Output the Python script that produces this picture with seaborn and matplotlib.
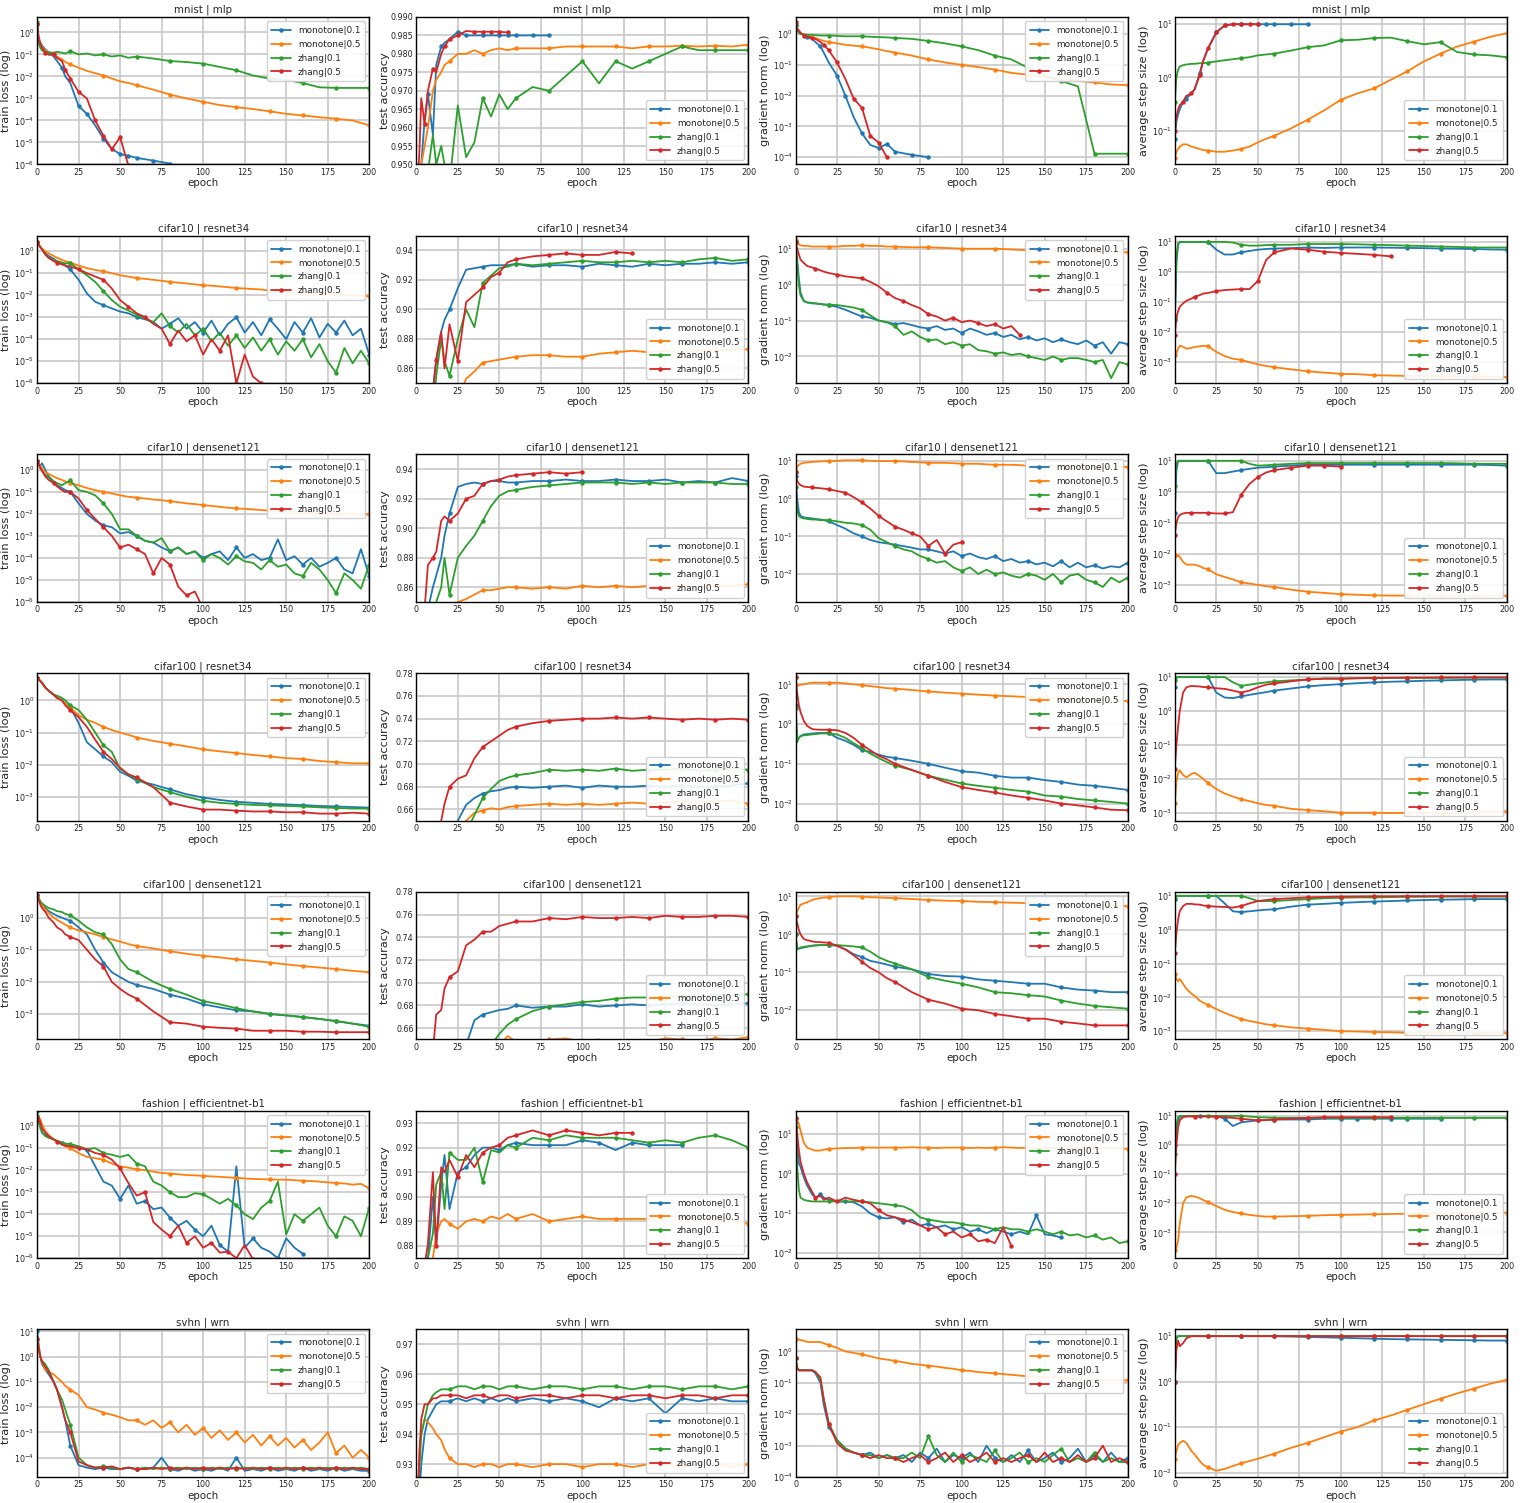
import matplotlib
matplotlib.use("Agg")
import matplotlib.pyplot as plt
import seaborn as sns
from matplotlib.ticker import MultipleLocator, LogLocator, NullLocator

# Epochs at which a logged curve is sampled (a run may stop early).
EPOCHS = [0, 1, 2, 3, 5, 7, 10, 12, 15, 17, 20,
          25, 30, 35, 40, 45, 50, 55, 60,
          70, 80, 90, 100, 110, 120, 130, 140, 150, 160, 170, 180, 190, 200]
# Finer sampling used for the noisier panels (every 5 epochs after epoch 60).
EPOCHS_DENSE = EPOCHS[:19] + list(range(65, 201, 5))

RUNS = ["monotone|0.1", "monotone|0.5", "zhang|0.1", "zhang|0.5"]
COLORS = ["#1f77b4", "#ff7f0e", "#2ca02c", "#d62728"]
TASKS = ["mnist | mlp", "cifar10 | resnet34", "cifar10 | densenet121",
         "cifar100 | resnet34", "cifar100 | densenet121",
         "fashion | efficientnet-b1", "svhn | wrn"]
METRICS = ["train loss (log)", "test accuracy", "gradient norm (log)",
           "average step size (log)"]

# ---------------- mnist | mlp ----------------
MNIST_LOSS = (
    [2.5, 0.6, 0.35, 0.25, 0.17, 0.12, 0.08, 0.05, 0.025, 0.01, 0.005,
     4.5e-4, 2e-4, 6e-5, 1.5e-5, 5e-6, 3e-6, 2.5e-6, 2e-6, 1.5e-6, 1.1e-6],
    [2.5, 0.5, 0.3, 0.22, 0.15, 0.12, 0.1, 0.08, 0.06, 0.045, 0.035,
     0.025, 0.018, 0.014, 0.011, 0.008, 0.006, 0.005, 0.004,
     0.0025, 0.0015, 0.001, 7e-4, 5e-4, 4e-4, 3.3e-4, 2.6e-4, 2e-4, 1.7e-4, 1.4e-4, 1.2e-4, 1e-4, 6e-5],
    [3, 0.3, 0.2, 0.15, 0.13, 0.12, 0.12, 0.13, 0.12, 0.11, 0.14,
     0.1, 0.11, 0.09, 0.1, 0.08, 0.09, 0.07, 0.08,
     0.065, 0.05, 0.045, 0.038, 0.027, 0.019, 0.011, 0.008, 0.007, 0.005, 0.0032, 0.003, 0.003, 0.003],
    [2.5, 0.5, 0.3, 0.2, 0.12, 0.1, 0.1, 0.07, 0.05, 0.02, 0.008,
     0.002, 0.001, 1e-4, 2e-5, 5e-6, 1.7e-5, 9e-7],
)
MNIST_ACC = (
    [0.93, 0.94, 0.945, 0.95, 0.962, 0.969, 0.958, 0.977, 0.982, 0.983, 0.984,
     0.986, 0.985, 0.985, 0.985, 0.985, 0.985, 0.985, 0.985, 0.985, 0.985],
    [0.93, 0.94, 0.945, 0.95, 0.955, 0.96, 0.97, 0.973, 0.975, 0.977, 0.978,
     0.98, 0.98, 0.981, 0.98, 0.981, 0.9815, 0.981, 0.9815,
     0.9815, 0.9815, 0.982, 0.982, 0.982, 0.982, 0.9815, 0.982, 0.982, 0.9822, 0.982, 0.9822, 0.982, 0.9825],
    [0.93, 0.935, 0.94, 0.942, 0.945, 0.948, 0.958, 0.95, 0.955, 0.95, 0.945,
     0.966, 0.952, 0.956, 0.968, 0.963, 0.969, 0.965, 0.968,
     0.971, 0.970, 0.974, 0.978, 0.972, 0.978, 0.976, 0.978, 0.980, 0.982, 0.981, 0.981, 0.981, 0.981],
    [0.94, 0.945, 0.955, 0.968, 0.961, 0.97, 0.976, 0.975, 0.98, 0.982, 0.984,
     0.985, 0.9862, 0.986, 0.986, 0.986, 0.986, 0.9858],
)
MNIST_GRAD = (
    [2, 1.5, 1.3, 1.1, 0.9, 0.8, 0.7, 0.55, 0.4, 0.25, 0.12,
     0.045, 0.01, 0.002, 6e-4, 2.5e-4, 2e-4, 2.7e-4, 1.5e-4, 1.2e-4, 1e-4],
    [2, 1.5, 1.3, 1.1, 0.95, 0.9, 0.8, 0.75, 0.65, 0.6, 0.55,
     0.5, 0.45, 0.42, 0.4, 0.36, 0.32, 0.28, 0.25,
     0.2, 0.15, 0.12, 0.1, 0.085, 0.07, 0.055, 0.048, 0.04, 0.035, 0.03, 0.027, 0.023, 0.022],
    [2, 1.3, 1.1, 1.0, 1.0, 0.95, 0.95, 0.92, 0.9, 0.9, 0.9,
     0.88, 0.85, 0.85, 0.85, 0.82, 0.8, 0.78, 0.75,
     0.7, 0.6, 0.5, 0.4, 0.3, 0.2, 0.15, 0.08, 0.045, 0.03, 0.02, 1.3e-4, 1.3e-4, 1.3e-4],
    [2.5, 1.5, 1.3, 1.1, 0.9, 0.85, 0.75, 0.7, 0.55, 0.45, 0.3,
     0.12, 0.035, 0.008, 0.004, 5e-4, 3e-4, 1e-4],
)
MNIST_STEP = (
    [0.07, 0.15, 0.2, 0.25, 0.35, 0.4, 0.5, 0.6, 1.2, 2, 3.5,
     7, 9.5, 10, 10, 10, 10, 10, 10, 10, 10],
    [0.03, 0.04, 0.045, 0.05, 0.055, 0.055, 0.05, 0.048, 0.045, 0.043, 0.042,
     0.04, 0.04, 0.042, 0.045, 0.05, 0.06, 0.07, 0.08,
     0.11, 0.16, 0.24, 0.38, 0.5, 0.62, 0.9, 1.3, 2.0, 2.8, 3.8, 4.7, 5.8, 6.8],
    [0.35, 1.0, 1.4, 1.6, 1.7, 1.75, 1.8, 1.8, 1.85, 1.85, 1.9,
     2.0, 2.1, 2.2, 2.3, 2.4, 2.6, 2.7, 2.8,
     3.2, 3.7, 4.0, 5.0, 5.1, 5.5, 5.6, 4.8, 4.2, 4.6, 3.0, 2.7, 2.6, 2.4],
    [0.1, 0.18, 0.25, 0.3, 0.35, 0.45, 0.5, 0.6, 1.1, 2, 3.5,
     7, 9.5, 10, 10, 10, 10],
)

# ---------------- cifar10 | resnet34 ----------------
C10R_LOSS = (  # sampled on EPOCHS_DENSE
    [2.5, 2.0, 1.5, 1.2, 0.8, 0.6, 0.45, 0.35, 0.3, 0.22, 0.15,
     0.05, 0.012, 0.005, 0.0035, 0.0025, 0.0018, 0.0015, 0.001,
     8e-4, 6e-4, 3e-4, 5e-4, 9e-4, 3e-4, 6e-4,
     2e-4, 7e-4, 1.5e-4, 5e-4, 1e-3, 2e-4, 6e-4,
     1.5e-4, 8e-4, 3e-4, 1e-4, 6e-4, 2e-4, 9e-4,
     1.2e-4, 5e-4, 2e-4, 7e-4, 1.5e-4, 3e-4, 2e-5],
    [2.5, 2.0, 1.5, 1.3, 1.0, 0.8, 0.6, 0.5, 0.4, 0.35, 0.3,
     0.22, 0.17, 0.14, 0.12, 0.1, 0.08, 0.07, 0.06,
     0.055, 0.05, 0.045, 0.04, 0.037, 0.034, 0.031,
     0.028, 0.027, 0.025, 0.023, 0.021, 0.02, 0.019,
     0.018, 0.016, 0.015, 0.014, 0.0135, 0.013, 0.0125,
     0.012, 0.0115, 0.011, 0.0105, 0.01, 0.0095, 0.009],
    [2.5, 2.0, 1.5, 1.2, 0.7, 0.5, 0.4, 0.35, 0.3, 0.28, 0.28,
     0.15, 0.08, 0.04, 0.015, 0.006, 0.003, 0.002, 0.0013,
     9e-4, 6e-4, 1.5e-3, 4e-4, 2e-4, 5e-4, 1.5e-4,
     3e-4, 8e-5, 2e-4, 5e-5, 1.5e-4, 4e-5, 1.2e-4,
     3e-5, 1e-4, 2e-5, 8e-5, 3e-5, 1e-4, 1.5e-5,
     6e-5, 1e-5, 3e-6, 4e-5, 8e-6, 3e-5, 8e-6],
    [2.5, 2.0, 1.5, 1.2, 0.7, 0.5, 0.35, 0.3, 0.25, 0.22, 0.2,
     0.15, 0.1, 0.07, 0.05, 0.02, 0.006, 0.003, 0.0015,
     1e-3, 5e-4, 3e-4, 6e-5, 2.5e-4, 8e-5, 1.5e-4,
     2e-5, 1e-4, 3e-5, 1.5e-4, 1e-6, 2e-5, 2e-6,
     1e-6],
)
C10R_ACC = (
    [0.80, 0.81, 0.815, 0.82, 0.825, 0.835, 0.845, 0.866, 0.885, 0.893, 0.90,
     0.9145, 0.927, 0.928, 0.929, 0.930, 0.930, 0.930, 0.931,
     0.929, 0.930, 0.930, 0.929, 0.931, 0.930, 0.929, 0.931, 0.930, 0.931, 0.931, 0.932, 0.931, 0.932],
    [0.78, 0.785, 0.79, 0.795, 0.80, 0.805, 0.81, 0.815, 0.82, 0.825, 0.83,
     0.84, 0.853, 0.858, 0.864, 0.865, 0.866, 0.867, 0.868,
     0.869, 0.869, 0.868, 0.868, 0.870, 0.871, 0.872, 0.871, 0.872, 0.871, 0.872, 0.872, 0.873, 0.873],
    [0.80, 0.805, 0.81, 0.815, 0.82, 0.825, 0.83, 0.855, 0.88, 0.865, 0.855,
     0.88, 0.9, 0.888, 0.918, 0.923, 0.928, 0.929, 0.931,
     0.930, 0.931, 0.932, 0.933, 0.932, 0.932, 0.933, 0.932, 0.933, 0.932, 0.934, 0.935, 0.933, 0.934],
    [0.80, 0.805, 0.81, 0.815, 0.82, 0.83, 0.845, 0.866, 0.885, 0.86, 0.89,
     0.865, 0.905, 0.91, 0.915, 0.922, 0.925, 0.932, 0.934,
     0.936, 0.937, 0.938, 0.937, 0.937, 0.939, 0.938],
)
C10R_GRAD = (  # sampled on EPOCHS_DENSE
    [15, 5, 1.5, 0.6, 0.35, 0.32, 0.31, 0.3, 0.29, 0.28, 0.27,
     0.24, 0.2, 0.16, 0.13, 0.12, 0.1, 0.09, 0.08,
     0.085, 0.075, 0.065, 0.06, 0.07, 0.055, 0.06,
     0.045, 0.06, 0.05, 0.04, 0.045, 0.035, 0.04,
     0.03, 0.035, 0.028, 0.032, 0.025, 0.03, 0.025,
     0.022, 0.028, 0.02, 0.025, 0.012, 0.025, 0.022],
    [18, 15, 13, 12.5, 12, 12, 11.5, 11.5, 11.5, 11.5, 11.5,
     11.5, 12, 12, 12.5, 12, 12, 11.5, 11.5,
     11.2, 11, 11, 11, 10.8, 10.5, 10.3,
     10, 10, 10, 10, 10, 9.8, 9.5,
     9.3, 9, 9, 9, 8.8, 8.5, 8.5,
     8.5, 8.5, 8.5, 8.3, 8.2, 8, 8],
    [15, 4, 1, 0.5, 0.35, 0.32, 0.3, 0.3, 0.29, 0.28, 0.28,
     0.27, 0.25, 0.23, 0.2, 0.14, 0.1, 0.09, 0.07,
     0.04, 0.05, 0.035, 0.028, 0.03, 0.022, 0.025,
     0.02, 0.022, 0.015, 0.014, 0.012, 0.013, 0.011,
     0.012, 0.01, 0.009, 0.008, 0.01, 0.008, 0.009,
     0.009, 0.008, 0.007, 0.008, 0.0025, 0.007, 0.006],
    [15, 10, 7, 5, 4, 3.3, 3, 2.8, 2.5, 2.3, 2.1,
     1.9, 1.7, 1.6, 1.5, 1.2, 0.9, 0.6, 0.42,
     0.35, 0.27, 0.22, 0.15, 0.13, 0.1, 0.12,
     0.09, 0.1, 0.085, 0.07, 0.08, 0.06, 0.07,
     0.04],
)
C10R_STEP = (
    [0.025, 2, 8, 10, 10, 10, 10, 10, 10, 10, 10,
     5.5, 3.8, 3.8, 4.5, 5, 5.5, 5.8, 6,
     6.2, 6.5, 6.3, 6.5, 6.5, 6.5, 6.4, 6.3, 6.2, 6, 5.9, 5.8, 5.6, 5.5],
    [0.0017, 0.002, 0.0028, 0.0035, 0.0033, 0.0028, 0.003, 0.0032, 0.0034, 0.0035, 0.0034,
     0.0022, 0.0016, 0.0013, 0.0012, 0.001, 0.00085, 0.00075, 0.00068,
     0.00058, 0.0005, 0.00045, 0.00041, 0.0004, 0.00037, 0.00036, 0.00035, 0.00035, 0.00034, 0.00034,
     0.00033, 0.00033, 0.00032],
    [0.03, 3, 9, 10, 10, 10, 10, 10, 10, 10, 10,
     10, 10, 9.5, 8, 7.5, 7.5, 7.8, 8,
     8, 8.5, 8.5, 8.5, 8.3, 8, 7.8, 7.5, 7.3, 7, 6.8, 6.5, 6.5, 6.5],
    [0.008, 0.03, 0.05, 0.07, 0.09, 0.11, 0.13, 0.15, 0.17, 0.19, 0.2,
     0.23, 0.25, 0.26, 0.27, 0.27, 0.5, 2.5, 4.5,
     6, 5.5, 4.7, 4.3, 4, 3.7, 3.3],
)

# ---------------- cifar10 | densenet121 ----------------
C10D_LOSS = (  # sampled on EPOCHS_DENSE
    [2.5, 2, 1.5, 2.0, 1.0, 0.5, 0.3, 0.2, 0.15, 0.12, 0.1,
     0.03, 0.01, 0.005, 0.003, 0.0025, 0.0013, 0.0015, 0.001,
     6e-4, 5e-4, 3e-4, 2e-4, 3e-4, 1.5e-4, 2e-4,
     1e-4, 1.5e-4, 2e-4, 8e-5, 3e-4, 1e-4, 1.5e-4,
     8e-5, 1e-4, 7e-4, 8e-5, 1.2e-4, 5e-5, 1e-4,
     4e-5, 6e-5, 1e-4, 3e-5, 2e-5, 2.5e-4, 1.5e-5],
    [2.5, 2, 1.5, 1.2, 0.8, 0.65, 0.5, 0.42, 0.35, 0.3, 0.25,
     0.2, 0.15, 0.12, 0.1, 0.085, 0.07, 0.06, 0.055,
     0.05, 0.045, 0.042, 0.038, 0.034, 0.03, 0.028,
     0.025, 0.023, 0.021, 0.019, 0.018, 0.017, 0.016,
     0.015, 0.014, 0.013, 0.013, 0.012, 0.012, 0.011,
     0.011, 0.0105, 0.01, 0.01, 0.0095, 0.0095, 0.0095],
    [2.5, 1.8, 1.2, 0.9, 0.6, 0.45, 0.3, 0.25, 0.2, 0.25, 0.33,
     0.12, 0.1, 0.07, 0.03, 0.01, 0.002, 0.002, 0.001,
     6e-4, 5e-4, 8e-4, 2e-4, 3e-4, 1.5e-4, 2e-4,
     8e-5, 1.5e-4, 1e-4, 5e-5, 1.2e-4, 7e-5, 6e-5,
     3e-5, 8e-5, 4e-5, 5e-5, 2e-5, 1.5e-5, 6e-5,
     3e-5, 1e-5, 2.5e-6, 2e-5, 1e-5, 4e-6, 5e-5],
    [2.5, 1.8, 1.2, 0.9, 0.5, 0.35, 0.25, 0.18, 0.12, 0.1, 0.1,
     0.05, 0.015, 0.006, 0.0025, 0.001, 3e-4, 4e-4, 2.5e-4,
     1.5e-4, 2e-5, 1e-4, 5e-5, 5e-6, 2e-6, 3e-6,
     5e-7],
)
C10D_ACC = (
    [0.80, 0.81, 0.82, 0.83, 0.84, 0.845, 0.86, 0.868, 0.88, 0.895, 0.91,
     0.928, 0.930, 0.931, 0.930, 0.932, 0.932, 0.931, 0.931,
     0.932, 0.932, 0.933, 0.932, 0.932, 0.933, 0.932, 0.932, 0.933, 0.931, 0.932, 0.931, 0.934, 0.932],
    [0.78, 0.785, 0.79, 0.795, 0.80, 0.805, 0.81, 0.815, 0.82, 0.83, 0.84,
     0.85, 0.852, 0.855, 0.858, 0.858, 0.859, 0.86, 0.86,
     0.859, 0.86, 0.859, 0.861, 0.86, 0.861, 0.86, 0.861, 0.86, 0.861, 0.86, 0.861, 0.861, 0.862],
    [0.80, 0.805, 0.81, 0.815, 0.82, 0.83, 0.84, 0.85, 0.86, 0.88, 0.855,
     0.88, 0.888, 0.895, 0.905, 0.915, 0.922, 0.925, 0.926,
     0.928, 0.929, 0.930, 0.931, 0.931, 0.931, 0.930, 0.931, 0.930, 0.931, 0.931, 0.931, 0.930, 0.930],
    [0.80, 0.81, 0.82, 0.83, 0.845, 0.875, 0.88, 0.884, 0.905, 0.908, 0.905,
     0.91, 0.92, 0.922, 0.93, 0.932, 0.933, 0.935, 0.936,
     0.937, 0.938, 0.937, 0.938],
)
C10D_GRAD = (  # sampled on EPOCHS_DENSE
    [4, 1, 0.45, 0.35, 0.32, 0.31, 0.3, 0.29, 0.28, 0.27, 0.25,
     0.2, 0.16, 0.12, 0.1, 0.08, 0.07, 0.065, 0.06,
     0.055, 0.05, 0.045, 0.045, 0.04, 0.035, 0.04,
     0.03, 0.035, 0.028, 0.025, 0.03, 0.022, 0.025,
     0.02, 0.022, 0.018, 0.02, 0.016, 0.022, 0.015,
     0.02, 0.015, 0.017, 0.014, 0.016, 0.015, 0.02],
    [5, 7, 8, 8.5, 9, 9.2, 9.5, 9.7, 9.8, 9.9, 10,
     10.2, 10.5, 10.5, 10.5, 10.2, 10, 10, 10,
     9.8, 9.5, 9.3, 9, 9, 9, 8.8,
     8.5, 8.5, 8.5, 8.2, 8, 8, 8,
     7.8, 7.5, 7.5, 7.5, 7.5, 7.3, 7.2,
     7, 7, 7, 7, 7, 7, 7],
    [2, 0.5, 0.35, 0.32, 0.3, 0.29, 0.28, 0.28, 0.27, 0.27, 0.27,
     0.25, 0.23, 0.22, 0.2, 0.15, 0.09, 0.07, 0.055,
     0.045, 0.04, 0.03, 0.025, 0.02, 0.022, 0.015,
     0.012, 0.015, 0.01, 0.013, 0.01, 0.011, 0.009,
     0.008, 0.01, 0.009, 0.007, 0.01, 0.006, 0.009,
     0.01, 0.007, 0.006, 0.0045, 0.008, 0.006, 0.008],
    [5, 3, 2.5, 2.3, 2.1, 2.05, 2.0, 1.95, 1.9, 1.85, 1.8,
     1.6, 1.45, 1.1, 0.8, 0.55, 0.35, 0.25, 0.18,
     0.15, 0.12, 0.1, 0.056, 0.08, 0.035, 0.06,
     0.07],
)
C10D_STEP = (
    [0.2, 5, 9.5, 10, 10, 10, 10, 10, 10, 10, 10,
     4, 4, 4.5, 5, 5.5, 6, 6.2, 6.5,
     7, 7.5, 7.5, 7.5, 7.5, 7.5, 7.5, 7.5, 7.5, 7.5, 7.5, 7.5, 7.3, 7],
    [0.0093, 0.008, 0.009, 0.008, 0.0055, 0.0045, 0.0045, 0.0045, 0.004, 0.0035, 0.0032,
     0.0022, 0.0018, 0.0015, 0.0012, 0.0011, 0.001, 0.0009, 0.00085,
     0.0007, 0.0006, 0.00055, 0.0005, 0.00048, 0.00046, 0.00045, 0.00045, 0.00045, 0.00045, 0.00044,
     0.00044, 0.00045, 0.00045],
    [1.5, 8, 10, 10, 10, 10, 10, 10, 10, 10, 10,
     10, 10, 10, 10, 8, 7, 7.2, 7.5,
     8, 8.5, 8.5, 8.5, 8.5, 8.5, 8.5, 8.5, 8.5, 8.5, 8.3, 8, 8, 8],
    [0.04, 0.1, 0.15, 0.18, 0.2, 0.21, 0.21, 0.21, 0.21, 0.21, 0.21,
     0.2, 0.2, 0.22, 0.8, 1.8, 3, 4.2, 5,
     6, 7, 7, 6.5],
)

# ---------------- cifar100 | resnet34 ----------------
C100R_LOSS = (
    [5, 4.5, 4, 3.5, 2.5, 2, 1.5, 1.2, 1.0, 0.8, 0.6,
     0.2, 0.05, 0.03, 0.018, 0.012, 0.006, 0.0045, 0.0032,
     0.0024, 0.0017, 0.0012, 0.00095, 0.0008, 0.0007, 0.00065, 0.0006, 0.00058, 0.00055, 0.00052,
     0.0005, 0.00048, 0.00046],
    [5, 4.5, 4, 3.5, 2.5, 2, 1.5, 1.2, 1.0, 0.8, 0.6,
     0.35, 0.25, 0.2, 0.15, 0.12, 0.1, 0.085, 0.07,
     0.055, 0.045, 0.037, 0.03, 0.026, 0.023, 0.02, 0.018, 0.016, 0.015, 0.013, 0.012, 0.011, 0.011],
    [5, 4.5, 4, 3.5, 2.5, 2, 1.5, 1.4, 1.2, 1.0, 0.7,
     0.5, 0.25, 0.1, 0.04, 0.025, 0.0074, 0.005, 0.0036,
     0.002, 0.0014, 0.001, 0.00075, 0.00065, 0.0006, 0.00056, 0.00054, 0.00052, 0.0005, 0.00047,
     0.00045, 0.00043, 0.00043],
    [5, 4.5, 4, 3.5, 2.5, 2, 1.5, 1.2, 1.0, 0.7, 0.5,
     0.3, 0.15, 0.06, 0.025, 0.015, 0.008, 0.005, 0.004,
     0.002, 0.00066, 0.0005, 0.0004, 0.0004, 0.00037, 0.00035, 0.00035, 0.00033, 0.00033, 0.0003,
     0.0003, 0.00032, 0.0003],
)
C100R_ACC = (
    [0.55, 0.56, 0.57, 0.58, 0.59, 0.6, 0.61, 0.615, 0.62, 0.628, 0.635,
     0.65, 0.664, 0.67, 0.674, 0.676, 0.677, 0.679, 0.68,
     0.679, 0.68, 0.681, 0.679, 0.681, 0.680, 0.680, 0.681, 0.680, 0.681, 0.680, 0.680, 0.681, 0.683],
    [0.55, 0.56, 0.57, 0.575, 0.58, 0.59, 0.6, 0.605, 0.61, 0.62, 0.63,
     0.64, 0.65, 0.657, 0.659, 0.661, 0.66, 0.662, 0.663,
     0.664, 0.665, 0.664, 0.665, 0.664, 0.665, 0.666, 0.665, 0.666, 0.667, 0.666, 0.667, 0.668, 0.665],
    [0.55, 0.555, 0.56, 0.565, 0.57, 0.575, 0.58, 0.585, 0.59, 0.6, 0.61,
     0.625, 0.64, 0.655, 0.67, 0.678, 0.685, 0.688, 0.69,
     0.692, 0.695, 0.694, 0.695, 0.694, 0.696, 0.694, 0.695, 0.695, 0.696, 0.694, 0.695, 0.696, 0.695],
    [0.55, 0.56, 0.57, 0.58, 0.6, 0.61, 0.62, 0.635, 0.65, 0.665, 0.68,
     0.687, 0.69, 0.705, 0.715, 0.72, 0.725, 0.73, 0.733,
     0.736, 0.738, 0.739, 0.740, 0.740, 0.741, 0.740, 0.741, 0.740, 0.739, 0.740, 0.739, 0.740, 0.739],
)
C100R_GRAD = (
    [3, 0.4, 0.45, 0.5, 0.55, 0.56, 0.58, 0.59, 0.6, 0.6, 0.6,
     0.45, 0.38, 0.3, 0.22, 0.2, 0.17, 0.15, 0.14,
     0.12, 0.1, 0.08, 0.065, 0.06, 0.05, 0.045, 0.045, 0.039, 0.035, 0.03, 0.028, 0.025, 0.022],
    [15, 9, 9.5, 9.8, 10, 10.5, 11, 11, 11, 11, 11,
     11, 10.5, 10, 9.5, 9, 8.5, 8, 7.8,
     7.2, 6.6, 6.2, 5.8, 5.5, 5.2, 5, 4.8, 4.6, 4.4, 4.2, 4, 3.9, 3.8],
    [2.5, 0.35, 0.45, 0.5, 0.52, 0.53, 0.55, 0.56, 0.58, 0.58, 0.58,
     0.55, 0.45, 0.33, 0.25, 0.18, 0.14, 0.11, 0.09,
     0.07, 0.05, 0.04, 0.032, 0.028, 0.025, 0.022, 0.02, 0.016, 0.015, 0.013, 0.012, 0.011, 0.01],
    [15, 6, 3, 2, 1.2, 0.9, 0.75, 0.73, 0.72, 0.72, 0.72,
     0.7, 0.6, 0.45, 0.3, 0.22, 0.16, 0.13, 0.1,
     0.07, 0.05, 0.035, 0.026, 0.022, 0.019, 0.016, 0.014, 0.012, 0.01, 0.009, 0.008, 0.007, 0.0068],
)
C100R_STEP = (
    [5, 9.5, 10, 10, 10, 10, 10, 10, 10, 10, 10,
     3.5, 2.5, 2.4, 2.7, 3, 3.3, 3.6, 4,
     4.6, 5.3, 5.8, 6.2, 6.6, 7, 7.3, 7.5, 7.8, 8, 8.2, 8.4, 8.5, 8.5],
    [0.002, 0.008, 0.015, 0.018, 0.013, 0.011, 0.014, 0.015, 0.012, 0.01, 0.0075,
     0.005, 0.0037, 0.003, 0.0025, 0.0022, 0.0019, 0.0017, 0.0016,
     0.0013, 0.0012, 0.0011, 0.001, 0.001, 0.001, 0.00098, 0.001, 0.001, 0.001, 0.001, 0.00105, 0.0011, 0.0011],
    [8, 10, 10, 10, 10, 10, 10, 10, 10, 10, 10,
     10, 10, 7, 5.5, 6, 6.5, 7, 7.5,
     8, 8.5, 9, 9, 9.2, 9.3, 9.4, 9.5, 9.5, 9.5, 9.6, 9.7, 9.7, 9.7],
    [0.02, 0.1, 0.35, 1, 3.5, 5, 5.5, 5.4, 5.3, 5.1, 5,
     4.7, 4.5, 4, 3.5, 4, 5, 6, 6.5,
     7.5, 8.5, 9, 9, 9.3, 9.5, 9.6, 9.7, 9.7, 9.8, 9.8, 9.8, 9.8, 9.8],
)

# ---------------- cifar100 | densenet121 ----------------
C100D_LOSS = (
    [5, 4, 3, 2.5, 2, 1.6, 1.3, 1.15, 1.0, 0.9, 0.8,
     0.5, 0.3, 0.1, 0.04, 0.02, 0.014, 0.01, 0.008,
     0.006, 0.004, 0.003, 0.002, 0.0016, 0.0013, 0.0012, 0.001, 0.0009, 0.0008, 0.0007, 0.0006, 0.0005, 0.00043],
    [5, 4, 3, 2.4, 1.8, 1.4, 1.0, 0.85, 0.7, 0.6, 0.5,
     0.4, 0.35, 0.3, 0.25, 0.21, 0.18, 0.15, 0.13,
     0.11, 0.09, 0.075, 0.065, 0.058, 0.05, 0.045, 0.04, 0.035, 0.031, 0.028, 0.025, 0.022, 0.02],
    [5, 4, 3.2, 2.8, 2.3, 2, 1.8, 1.6, 1.5, 1.3, 1.2,
     0.8, 0.5, 0.35, 0.3, 0.15, 0.05, 0.025, 0.02,
     0.01, 0.006, 0.004, 0.0025, 0.002, 0.0015, 0.0012, 0.001, 0.0009, 0.0008, 0.0007, 0.0006, 0.0005, 0.0004],
    [5, 3.5, 2.5, 2, 1.5, 1.0, 0.7, 0.5, 0.4, 0.3, 0.25,
     0.2, 0.1, 0.05, 0.03, 0.01, 0.006, 0.004, 0.003,
     0.0012, 0.00055, 0.0005, 0.0004, 0.00037, 0.00035, 0.0003, 0.0003, 0.0003, 0.00028, 0.00028,
     0.00027, 0.00027, 0.00027],
)
C100D_ACC = (
    [0.55, 0.56, 0.565, 0.57, 0.575, 0.58, 0.59, 0.595, 0.6, 0.61, 0.615,
     0.625, 0.645, 0.667, 0.672, 0.674, 0.676, 0.677, 0.68,
     0.678, 0.679, 0.679, 0.681, 0.679, 0.68, 0.681, 0.68, 0.681, 0.682, 0.681, 0.680, 0.681, 0.682],
    [0.5, 0.51, 0.52, 0.53, 0.54, 0.55, 0.56, 0.57, 0.58, 0.59, 0.6,
     0.61, 0.62, 0.63, 0.64, 0.643, 0.645, 0.653, 0.648,
     0.648, 0.65, 0.651, 0.648, 0.65, 0.647, 0.649, 0.648, 0.651, 0.65, 0.649, 0.651, 0.65, 0.652],
    [0.5, 0.51, 0.52, 0.53, 0.54, 0.55, 0.56, 0.57, 0.58, 0.59, 0.6,
     0.61, 0.62, 0.63, 0.635, 0.645, 0.655, 0.663, 0.668,
     0.675, 0.679, 0.681, 0.683, 0.684, 0.686, 0.687, 0.687, 0.688, 0.688, 0.688, 0.689, 0.689, 0.69],
    [0.6, 0.605, 0.61, 0.615, 0.62, 0.63, 0.64, 0.672, 0.676, 0.695, 0.705,
     0.71, 0.733, 0.738, 0.745, 0.745, 0.75, 0.752, 0.754,
     0.754, 0.757, 0.756, 0.758, 0.757, 0.757, 0.758, 0.757, 0.759, 0.758, 0.758, 0.759, 0.759, 0.758],
)
C100D_GRAD = (
    [1.0, 0.4, 0.42, 0.43, 0.45, 0.47, 0.5, 0.51, 0.52, 0.52, 0.52,
     0.5, 0.4, 0.3, 0.25, 0.2, 0.18, 0.16, 0.14,
     0.12, 0.09, 0.08, 0.077, 0.065, 0.06, 0.055, 0.05, 0.05, 0.04, 0.035, 0.033, 0.03, 0.03],
    [3, 4, 5, 6, 6.5, 7, 8, 8.5, 9, 9.2, 9.5,
     10, 10, 10, 9.8, 9.5, 9.3, 9.1, 9,
     8.5, 8, 7.7, 7.5, 7.2, 7, 6.8, 6.6, 6.4, 6.2, 6, 5.8, 5.6, 5.5],
    [1.0, 0.4, 0.43, 0.45, 0.47, 0.48, 0.5, 0.51, 0.52, 0.52, 0.52,
     0.52, 0.5, 0.48, 0.45, 0.35, 0.25, 0.2, 0.17,
     0.12, 0.075, 0.06, 0.05, 0.04, 0.03, 0.028, 0.025, 0.023, 0.018, 0.015, 0.013, 0.012, 0.011],
    [3, 2, 1.3, 1.0, 0.75, 0.7, 0.65, 0.63, 0.62, 0.61, 0.6,
     0.5, 0.4, 0.28, 0.19, 0.13, 0.1, 0.07, 0.055,
     0.03, 0.019, 0.015, 0.011, 0.01, 0.008, 0.007, 0.006, 0.006, 0.005, 0.0045, 0.004, 0.004, 0.004],
)
C100D_STEP = (
    [8, 10, 10, 10, 10, 10, 10, 10, 10, 10, 10,
     10, 6, 3.5, 3.3, 3.5, 3.7, 3.9, 4,
     4.8, 5.5, 5.8, 6.2, 6.5, 6.8, 7, 7.3, 7.5, 7.7, 7.8, 8, 8, 8],
    [0.05, 0.035, 0.03, 0.035, 0.025, 0.018, 0.013, 0.011, 0.008, 0.007, 0.006,
     0.0045, 0.0035, 0.0028, 0.0023, 0.002, 0.0018, 0.0016, 0.0015,
     0.0013, 0.0012, 0.0011, 0.001, 0.00098, 0.00095, 0.00093, 0.0009, 0.0009, 0.0009, 0.0009,
     0.00088, 0.00088, 0.00088],
    [8, 10, 10, 10, 10, 10, 10, 10, 10, 10, 10,
     10, 10, 10, 10, 8.5, 7, 7, 7,
     7.5, 8, 8.5, 8.8, 9, 9, 9.2, 9.3, 9.4, 9.5, 9.5, 9.5, 9.5, 9.5],
    [0.2, 0.8, 2, 3.5, 5, 5.8, 5.8, 5.6, 5.5, 5.2, 5,
     4.8, 4.7, 4.5, 5, 6, 7, 7.5, 8,
     8.5, 9, 9.3, 9.5, 9.6, 9.7, 9.7, 9.8, 9.8, 9.8, 9.8, 9.8, 9.8, 9.8],
)

# ---------------- fashion | efficientnet-b1 ----------------
FASH_LOSS = (  # sampled on EPOCHS_DENSE
    [1.5, 3, 1.5, 0.5, 0.4, 0.3, 0.25, 0.2, 0.18, 0.16, 0.15,
     0.12, 0.08, 0.015, 0.003, 0.002, 5e-4, 2e-3, 3e-4,
     4e-4, 1.7e-4, 2e-4, 7e-5, 3e-5, 5e-5, 2e-5,
     1e-5, 3e-5, 4e-6, 2e-6, 1.5e-2, 3e-6, 8e-6,
     3e-6, 2e-6, 1e-6, 8e-6, 3e-6, 1.6e-6],
    [2.5, 2.3, 2, 1.2, 0.6, 0.4, 0.25, 0.2, 0.15, 0.12, 0.1,
     0.06, 0.04, 0.035, 0.03, 0.02, 0.015, 0.013, 0.011,
     0.01, 0.0085, 0.0075, 0.007, 0.0065, 0.006, 0.0058,
     0.0055, 0.0052, 0.005, 0.0047, 0.0045, 0.0042, 0.004,
     0.0039, 0.0038, 0.0037, 0.0037, 0.0035, 0.0033, 0.0032,
     0.003, 0.0028, 0.0026, 0.0025, 0.0022, 0.0024, 0.0015],
    [5, 2, 0.8, 0.5, 0.35, 0.3, 0.25, 0.22, 0.18, 0.16, 0.15,
     0.12, 0.09, 0.1, 0.06, 0.05, 0.04, 0.05, 0.02,
     0.015, 0.003, 0.002, 0.001, 6e-4, 6e-4, 9e-4,
     8e-4, 5e-4, 3e-4, 5e-4, 2.5e-4, 1e-4, 6e-5,
     2e-4, 4e-4, 3e-3, 1.2e-5, 1e-4, 5e-5, 1e-4,
     2e-4, 3e-5, 1e-5, 8e-5, 5e-5, 1e-5, 2e-4],
    [2, 2.5, 1.5, 0.8, 0.5, 0.35, 0.25, 0.2, 0.15, 0.13, 0.12,
     0.1, 0.09, 0.06, 0.05, 0.03, 0.012, 0.0026, 7e-4,
     1e-3, 4.4e-5, 2e-5, 1e-5, 3e-5, 5e-6, 1e-5,
     3e-6, 5e-6, 1.8e-6, 2e-6, 1e-6, 4e-6, 9e-7],
)
FASH_ACC = (
    [0.85, 0.855, 0.86, 0.865, 0.87, 0.875, 0.9, 0.88, 0.905, 0.917, 0.895,
     0.91, 0.912, 0.917, 0.92, 0.92, 0.919, 0.921, 0.922,
     0.921, 0.921, 0.921, 0.923, 0.922, 0.919, 0.922, 0.921, 0.921, 0.921],
    [0.85, 0.855, 0.86, 0.865, 0.868, 0.872, 0.875, 0.885, 0.89, 0.891, 0.889,
     0.887, 0.89, 0.891, 0.89, 0.892, 0.891, 0.893, 0.891,
     0.893, 0.89, 0.891, 0.892, 0.891, 0.891, 0.891, 0.891, 0.892, 0.892, 0.891, 0.892, 0.891, 0.889],
    [0.86, 0.862, 0.864, 0.866, 0.87, 0.875, 0.885, 0.905, 0.91, 0.895, 0.918,
     0.915, 0.915, 0.92, 0.906, 0.919, 0.918, 0.921, 0.92,
     0.924, 0.923, 0.925, 0.924, 0.924, 0.924, 0.923, 0.922, 0.923, 0.922, 0.924, 0.925, 0.923, 0.920],
    [0.86, 0.862, 0.865, 0.868, 0.872, 0.881, 0.91, 0.88, 0.912, 0.91, 0.915,
     0.908, 0.917, 0.912, 0.918, 0.92, 0.921, 0.924, 0.925,
     0.927, 0.925, 0.927, 0.926, 0.925, 0.926, 0.926],
)
FASH_GRAD = (  # sampled on EPOCHS_DENSE
    [20, 5, 1.8, 1.5, 0.8, 0.5, 0.3, 0.25, 0.3, 0.25, 0.22,
     0.2, 0.2, 0.19, 0.15, 0.1, 0.08, 0.075, 0.08,
     0.06, 0.07, 0.05, 0.055, 0.045, 0.05, 0.04,
     0.045, 0.035, 0.04, 0.032, 0.04, 0.035, 0.03,
     0.035, 0.03, 0.09, 0.03, 0.028, 0.025],
    [25, 22, 18, 12, 6, 4.5, 4, 3.8, 3.8, 4, 4.2,
     4.3, 4.4, 4.4, 4.5, 4.5, 4.5, 4.5, 4.5,
     4.5, 4.6, 4.5, 4.5, 4.4, 4.5, 4.5,
     4.5, 4.4, 4.5, 4.4, 4.5, 4.6, 4.5,
     4.4, 4.5, 4.4, 4.5, 4.4, 4.4, 4.5,
     4.4, 4.5, 4.3, 4.3, 4.4, 4.3, 4.2],
    [15, 1.5, 0.4, 0.25, 0.22, 0.21, 0.2, 0.2, 0.2, 0.2, 0.2,
     0.2, 0.2, 0.2, 0.2, 0.19, 0.18, 0.17, 0.16,
     0.15, 0.12, 0.08, 0.07, 0.065, 0.06, 0.06,
     0.055, 0.05, 0.05, 0.045, 0.04, 0.045, 0.04,
     0.04, 0.035, 0.04, 0.035, 0.03, 0.035, 0.028,
     0.03, 0.025, 0.028, 0.022, 0.025, 0.018, 0.02],
    [25, 10, 4, 2, 1.0, 0.6, 0.35, 0.25, 0.28, 0.22, 0.25,
     0.2, 0.25, 0.22, 0.2, 0.18, 0.12, 0.09, 0.08,
     0.07, 0.06, 0.05, 0.04, 0.045, 0.03, 0.035,
     0.025, 0.03, 0.02, 0.022, 0.018, 0.045, 0.015],
)
FASH_STEP = (
    [1.0, 3, 7, 9, 10, 10, 10, 10, 10, 10, 10,
     10, 8, 4.5, 6, 6.5, 7, 7.2, 7.5,
     7.5, 7.5, 8, 8, 8, 8, 8, 8, 8, 8],
    [0.00025, 0.0003, 0.0005, 0.002, 0.01, 0.016, 0.018, 0.017, 0.015, 0.013, 0.011,
     0.008, 0.006, 0.005, 0.0045, 0.004, 0.0037, 0.0035, 0.0035,
     0.0036, 0.0037, 0.0039, 0.004, 0.0041, 0.0042, 0.0043, 0.0044, 0.0045, 0.0045, 0.0046,
     0.0047, 0.0048, 0.0048],
    [0.5, 5, 9, 10, 10, 10, 10, 10, 10, 10, 10,
     10, 10, 10, 10, 9.5, 9, 8.8, 8.5,
     8.5, 8.5, 8.5, 8.5, 8.5, 8.5, 8.5, 8.5, 8.5, 8.5, 8.5, 8.5, 8.5, 8.5],
    [0.1, 1, 4, 7, 9, 9.5, 9.5, 9.5, 9.5, 9.5, 9.5,
     9.2, 9, 8.5, 8, 7.5, 7, 7.2, 7.5,
     8, 8.5, 9, 9, 9, 9, 9],
)

# ---------------- svhn | wrn ----------------
SVHN_LOSS = (  # sampled on EPOCHS_DENSE
    [10, 3, 1, 0.5, 0.3, 0.2, 0.1, 0.05, 0.01, 0.003, 3e-4,
     5e-5, 4e-5, 3.5e-5, 4e-5, 3.5e-5, 3.5e-5, 4e-5, 3.5e-5,
     3.5e-5, 4e-5, 1e-4, 3.5e-5, 3e-5, 4e-5, 3e-5,
     3.5e-5, 3e-5, 4e-5, 3e-5, 1e-4, 3e-5, 3.5e-5,
     3e-5, 4e-5, 3e-5, 3.5e-5, 3e-5, 4e-5, 3e-5,
     3.5e-5, 3e-5, 4e-5, 3e-5, 3.5e-5, 3e-5, 3e-5],
    [3, 2, 1, 0.6, 0.3, 0.25, 0.2, 0.15, 0.1, 0.07, 0.05,
     0.03, 0.01, 0.008, 0.006, 0.005, 0.004, 0.003, 0.003,
     0.002, 0.003, 0.0015, 0.0025, 0.001, 0.002, 0.0008,
     0.0015, 0.0006, 0.0012, 0.0005, 0.001, 0.0004, 0.0008,
     0.0003, 0.0007, 0.0003, 0.0006, 0.00025, 0.0005, 0.0002,
     0.0004, 0.001, 0.00015, 0.0003, 0.0001, 0.0002, 0.0001],
    [5, 2, 1, 0.7, 0.5, 0.3, 0.1, 0.05, 0.02, 0.008, 0.002,
     1e-4, 5e-5, 4e-5, 4.5e-5, 4e-5, 3.5e-5, 4e-5, 3.5e-5,
     4e-5, 3.5e-5, 4e-5, 3.5e-5, 4e-5, 3.5e-5, 4e-5,
     3.5e-5, 4e-5, 3.5e-5, 4e-5, 3.5e-5, 4e-5, 3.5e-5,
     4e-5, 3.5e-5, 4e-5, 3.5e-5, 4e-5, 3.5e-5, 4e-5,
     3.5e-5, 4e-5, 3.5e-5, 4e-5, 3.5e-5, 4e-5, 3.5e-5],
    [5, 2, 1, 0.6, 0.4, 0.25, 0.1, 0.05, 0.01, 0.003, 0.001,
     7e-5, 5e-5, 4e-5, 4e-5, 4.5e-5, 3.5e-5, 4e-5, 3.5e-5,
     3.5e-5, 4e-5, 3.5e-5, 4e-5, 3.5e-5, 4e-5, 3.5e-5,
     4e-5, 3.5e-5, 4e-5, 3.5e-5, 4e-5, 3.5e-5, 4e-5,
     3.5e-5, 4e-5, 3.5e-5, 4e-5, 3.5e-5, 4e-5, 3.5e-5,
     4e-5, 3.5e-5, 4e-5, 3.5e-5, 4e-5, 3.5e-5, 3.5e-5],
)
SVHN_ACC = (
    [0.90, 0.91, 0.92, 0.93, 0.94, 0.945, 0.948, 0.95, 0.951, 0.951, 0.951,
     0.952, 0.951, 0.952, 0.951, 0.952, 0.951, 0.952, 0.951,
     0.952, 0.951, 0.952, 0.951, 0.949, 0.952, 0.951, 0.952, 0.947, 0.952, 0.951, 0.952, 0.951, 0.951],
    [0.90, 0.92, 0.935, 0.94, 0.945, 0.944, 0.942, 0.94, 0.938, 0.935, 0.932,
     0.93, 0.93, 0.929, 0.93, 0.93, 0.929, 0.93, 0.93,
     0.929, 0.93, 0.93, 0.929, 0.93, 0.93, 0.929, 0.93, 0.93, 0.929, 0.93, 0.93, 0.929, 0.93],
    [0.90, 0.92, 0.93, 0.94, 0.945, 0.95, 0.953, 0.954, 0.955, 0.955, 0.955,
     0.956, 0.956, 0.955, 0.956, 0.956, 0.955, 0.956, 0.956,
     0.955, 0.956, 0.956, 0.955, 0.956, 0.956, 0.955, 0.956, 0.956, 0.955, 0.956, 0.956, 0.955, 0.956],
    [0.90, 0.92, 0.935, 0.945, 0.95, 0.95, 0.952, 0.952, 0.953, 0.953, 0.953,
     0.953, 0.952, 0.953, 0.953, 0.952, 0.953, 0.953, 0.952,
     0.953, 0.953, 0.952, 0.953, 0.953, 0.952, 0.953, 0.953, 0.952, 0.953, 0.953, 0.952, 0.953, 0.953],
)
SVHN_GRAD = (  # sampled on EPOCHS_DENSE
    [0.6, 0.3, 0.25, 0.25, 0.25, 0.25, 0.25, 0.2, 0.1, 0.02, 0.004,
     0.0015, 8e-4, 6e-4, 5e-4, 6e-4, 4e-4, 5e-4, 4e-4,
     5e-4, 3e-4, 6e-4, 4e-4, 8e-4, 3e-4, 5e-4,
     4e-4, 6e-4, 3e-4, 1e-3, 4e-4, 3e-4, 5e-4,
     3e-4, 7e-4, 3e-4, 4e-4, 6e-4, 3e-4, 4e-4,
     8e-4, 3e-4, 5e-4, 3e-4, 6e-4, 3e-4, 4e-4],
    [2.5, 2.5, 2.4, 2.3, 2.2, 2, 2, 2, 2, 1.8, 1.6,
     1.3, 1.0, 0.9, 0.8, 0.7, 0.6, 0.55, 0.5,
     0.45, 0.4, 0.38, 0.35, 0.33, 0.3, 0.28,
     0.25, 0.24, 0.22, 0.21, 0.2, 0.19, 0.18,
     0.17, 0.16, 0.16, 0.15, 0.15, 0.14, 0.14,
     0.13, 0.13, 0.12, 0.12, 0.12, 0.12, 0.12],
    [0.6, 0.3, 0.25, 0.25, 0.25, 0.25, 0.25, 0.22, 0.12, 0.03, 0.005,
     0.0015, 8e-4, 6e-4, 5e-4, 5e-4, 4e-4, 5e-4, 4e-4,
     4e-4, 6e-4, 4e-4, 2e-3, 5e-4, 3e-4, 6e-4,
     3e-4, 5e-4, 4e-4, 3e-4, 7e-4, 3e-4, 4e-4,
     6e-4, 3e-4, 4e-4, 3e-4, 5e-4, 8e-4, 3e-4,
     4e-4, 3e-4, 6e-4, 3e-4, 4e-4, 3e-4, 3e-4],
    [0.6, 0.3, 0.25, 0.25, 0.25, 0.25, 0.25, 0.22, 0.15, 0.03, 0.005,
     0.0012, 7e-4, 6e-4, 5e-4, 4e-4, 5e-4, 4e-4, 4e-4,
     3e-4, 4e-4, 5e-4, 3e-4, 4e-4, 6e-4, 3e-4,
     5e-4, 3e-4, 4e-4, 6e-4, 3e-4, 4e-4, 3e-4,
     4e-4, 5e-4, 3e-4, 6e-4, 3e-4, 4e-4, 3e-4,
     5e-4, 3e-4, 4e-4, 1e-3, 3e-4, 4e-4, 3e-4],
)
SVHN_STEP = (
    [1, 9, 10, 10, 10, 10, 10, 10, 10, 10, 10,
     10, 10, 10, 10, 10, 10, 10, 10,
     9.8, 9.6, 9.4, 9.2, 9, 8.8, 8.6, 8.5, 8.4, 8.3, 8.2, 8.1, 8, 8],
    [0.02, 0.03, 0.04, 0.045, 0.05, 0.045, 0.03, 0.025, 0.018, 0.015, 0.013,
     0.011, 0.012, 0.014, 0.016, 0.018, 0.02, 0.023, 0.026,
     0.035, 0.045, 0.06, 0.08, 0.1, 0.14, 0.18, 0.24, 0.32, 0.42, 0.55, 0.7, 0.9, 1.1],
    [1, 9, 10, 10, 10, 10, 10, 10, 10, 10, 10,
     10, 10, 10, 10, 10, 10, 10, 10,
     10, 10, 10, 10, 10, 10, 10, 10, 10, 10, 10, 10, 10, 10],
    [1, 5, 8, 6, 7, 9, 10, 10, 10, 10, 10,
     10, 10, 10, 10, 10, 10, 10, 10,
     10, 10, 10, 10, 10, 10, 10, 10, 10, 10, 10, 10, 10, 10],
)

PANELS = [
    [MNIST_LOSS, MNIST_ACC, MNIST_GRAD, MNIST_STEP],
    [C10R_LOSS, C10R_ACC, C10R_GRAD, C10R_STEP],
    [C10D_LOSS, C10D_ACC, C10D_GRAD, C10D_STEP],
    [C100R_LOSS, C100R_ACC, C100R_GRAD, C100R_STEP],
    [C100D_LOSS, C100D_ACC, C100D_GRAD, C100D_STEP],
    [FASH_LOSS, FASH_ACC, FASH_GRAD, FASH_STEP],
    [SVHN_LOSS, SVHN_ACC, SVHN_GRAD, SVHN_STEP],
]
# (row, column) of the panels whose curves are sampled on EPOCHS_DENSE
DENSE_PANELS = {(1, 0), (1, 2), (2, 0), (2, 2), (5, 0), (5, 2), (6, 0), (6, 2)}

# y-range of every panel and the accuracy tick spacing of every row
YLIMS = [
    [(1e-6, 5), (0.950, 0.990), (5.8e-5, 3.6), (0.023, 13.7)],
    [(1e-6, 5), (0.85, 0.95), (1.8e-3, 23), (2e-4, 16)],
    [(1e-6, 5), (0.85, 0.95), (1.8e-3, 15), (2.8e-4, 16)],
    [(1.8e-4, 7), (0.65, 0.78), (3.7e-3, 19), (5.8e-4, 13)],
    [(1.6e-4, 6.3), (0.65, 0.78), (1.7e-3, 13), (5.7e-4, 13)],
    [(1e-6, 5), (0.875, 0.935), (7.5e-3, 38), (1.3e-4, 15)],
    [(1.7e-5, 12), (0.9257, 0.975), (1e-4, 5), (8e-3, 14)],
]
ACC_STEP = [0.005, 0.02, 0.02, 0.02, 0.02, 0.01, 0.01]
LEGEND_LOC = ["upper right", "lower right", "upper right", "lower right"]


def marker_positions(epochs, count=10):
    """Indices of about `count` evenly spread points along a run."""
    last = epochs[-1]
    picks = []
    for k in range(count + 1):
        target = last * k / count
        idx = min(range(len(epochs)), key=lambda i: abs(epochs[i] - target))
        if idx not in picks:
            picks.append(idx)
    return picks


sns.set_theme(style="whitegrid")
plt.rcParams.update({
    "font.family": ["DejaVu Sans"],
    "axes.edgecolor": "black",
    "axes.linewidth": 1.0,
    "grid.color": "#c4c4c4",
    "grid.linewidth": 1.1,
    "xtick.major.size": 0,
    "ytick.major.size": 0,
    "xtick.labelsize": 5.8,
    "ytick.labelsize": 5.8,
    "xtick.major.pad": 2.5,
    "ytick.major.pad": 2,
    "axes.titlesize": 7.4,
    "axes.labelsize": 7.4,
    "axes.titlepad": 3,
    "axes.labelpad": 1.0,
})

fig, axes = plt.subplots(7, 4, figsize=(15.31, 15.03), dpi=100)
fig.subplots_adjust(left=0.0242, right=0.9843, top=0.9887, bottom=0.0173,
                    wspace=0.1416, hspace=0.483)

for r, task in enumerate(TASKS):
    for c, metric in enumerate(METRICS):
        ax = axes[r, c]
        grid = EPOCHS_DENSE if (r, c) in DENSE_PANELS else EPOCHS
        for run, color, values in zip(RUNS, COLORS, PANELS[r][c]):
            ep = grid[:len(values)]
            sns.lineplot(x=ep, y=values, ax=ax, color=color, label=run,
                         linewidth=1.3, marker="o", markersize=3.2,
                         markeredgewidth=0, markevery=marker_positions(ep),
                         sort=False, errorbar=None)
        if c != 1:
            ax.set_yscale("log")
            ax.yaxis.set_major_locator(LogLocator(base=10, numticks=15))
            ax.yaxis.set_minor_locator(NullLocator())
        else:
            ax.yaxis.set_major_locator(MultipleLocator(ACC_STEP[r]))
        ax.set_ylim(*YLIMS[r][c])
        ax.set_xlim(0, 200)
        ax.xaxis.set_major_locator(MultipleLocator(25))
        ax.set_title(task)
        ax.set_xlabel("epoch")
        ax.set_ylabel(metric, fontsize=8.2)
        ax.yaxis.set_label_coords(-0.078, 0.5)
        ax.legend(loc=LEGEND_LOC[c], fontsize=6.4, borderpad=0.5,
                  labelspacing=0.55, handlelength=2.2, framealpha=0.9)

fig.savefig("out.png", dpi=100)
